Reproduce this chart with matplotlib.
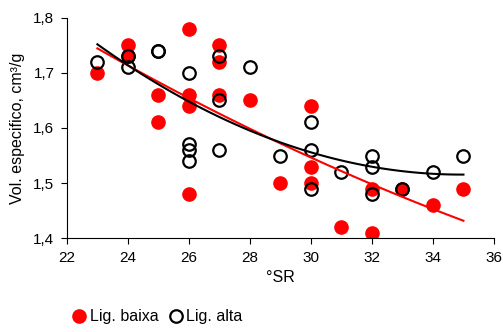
import matplotlib.pyplot as plt
import numpy as np

plt.rcParams['font.family'] = ['Liberation Sans', 'DejaVu Sans']

# Lig. baixa (red, filled)
baixa_x = [23, 24, 24, 25, 25, 26, 26, 26, 26, 27, 27, 27, 28, 29, 30, 30, 30, 31, 32, 32, 33, 34, 35]
baixa_y = [1.70, 1.75, 1.73, 1.66, 1.61, 1.78, 1.66, 1.64, 1.48, 1.75, 1.72, 1.66, 1.65, 1.50,
           1.64, 1.53, 1.50, 1.42, 1.49, 1.41, 1.49, 1.46, 1.49]

# Lig. alta (black, open)
alta_x = [23, 24, 24, 25, 25, 26, 26, 26, 26, 27, 27, 27, 28, 29, 30, 30, 30, 31, 32, 32, 32, 33, 34, 35]
alta_y = [1.72, 1.73, 1.71, 1.74, 1.74, 1.70, 1.57, 1.56, 1.54, 1.73, 1.65, 1.56, 1.71, 1.55,
          1.61, 1.56, 1.49, 1.52, 1.55, 1.53, 1.48, 1.49, 1.52, 1.55]

fig = plt.figure(figsize=(5.03, 3.32), dpi=100)
ax = fig.add_axes([0.133, 0.283, 0.849, 0.663])

# quadratic trend lines, like Excel's polynomial trendline
xx = np.linspace(23, 35, 100)
cb = np.polyfit(baixa_x, baixa_y, 2)
ca = np.polyfit(alta_x, alta_y, 2)

ax.plot(baixa_x, baixa_y, 'o', color='#ff0000', ms=9.5, mec='#ff0000', zorder=2,
        label='Lig. baixa')
ax.plot(alta_x, alta_y, 'o', mfc='none', mec='black', mew=1.6, ms=9, zorder=3,
        label='Lig. alta')
ax.plot(xx, np.polyval(cb, xx), color='#ff0000', lw=1.5, zorder=4)
ax.plot(xx, np.polyval(ca, xx), color='black', lw=1.5, zorder=5)

ax.set_xlim(22, 36)
ax.set_ylim(1.4, 1.8)
ax.set_xticks(range(22, 37, 2))
ax.set_yticks([1.4, 1.5, 1.6, 1.7, 1.8])
ax.set_yticklabels(['1,4', '1,5', '1,6', '1,7', '1,8'])
ax.tick_params(labelsize=11, length=4, width=0.8, direction='out', pad=5)
ax.spines['top'].set_visible(False)
ax.spines['right'].set_visible(False)
ax.set_xlabel('°SR', fontsize=11.5, labelpad=4)
ax.set_ylabel('Vol. especifico, cm³/g', fontsize=11.5, labelpad=6)

fig.legend(loc='lower left', bbox_to_anchor=(0.11, -0.02), ncol=2, frameon=False,
           fontsize=11.5, handletextpad=0.05, columnspacing=0.5, handlelength=1.2)

fig.savefig('out.png', dpi=100)
